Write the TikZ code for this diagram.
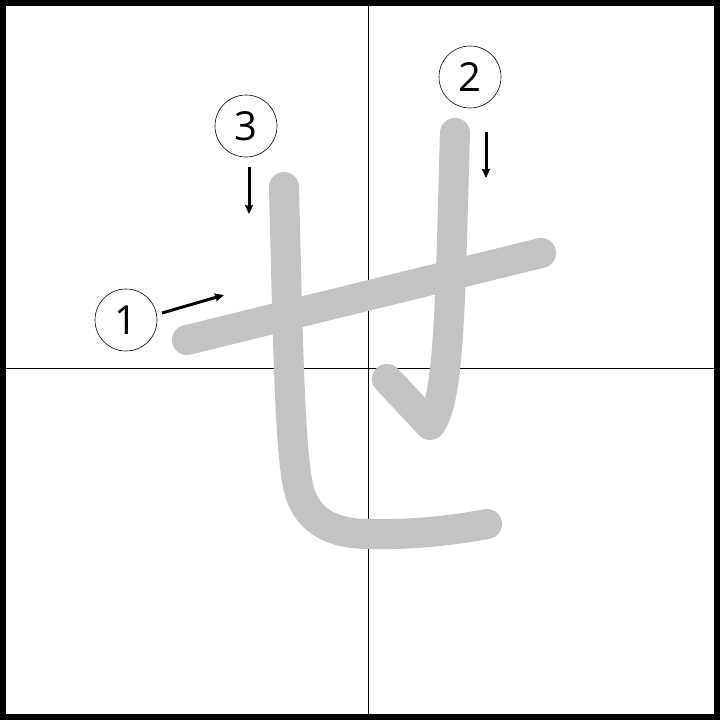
\documentclass[tikz,border=0pt]{standalone}
\usepackage{fontspec}
\setmainfont{Open Sans}
\usetikzlibrary{arrows.meta}
\definecolor{strokegray}{RGB}{195,195,195}
\begin{document}
\begin{tikzpicture}[x=1pt,y=-1pt,
  kana/.style={draw=strokegray,line width=30pt,line cap=round,line join=round},
  numcirc/.style={circle,draw=black,line width=0.6pt,minimum size=62pt,inner sep=0pt,font=\fontsize{40}{40}\selectfont},
  dirarrow/.style={line width=3pt,-{Stealth[length=9pt,width=8pt,inset=1pt]}},
  guide/.style={line width=1pt}]
\useasboundingbox (0,0) rectangle (720,720);
\fill[white] (0,0) rectangle (720,720);
% guide cross
\coordinate (vt) at (368,0); \coordinate (vb) at (368,720);
\coordinate (hl) at (0,368); \coordinate (hr) at (720,368);
\draw[guide] (vt) -- (vb);
\draw[guide] (hl) -- (hr);
% strokes
\draw[kana] (187,340) -- (541,253);
\draw[kana] (455,133) .. controls (450,300) and (450,400) .. (430,425) -- (387,379);
\draw[kana] (284,187) .. controls (288,350) and (290,440) .. (297,480) .. controls (303,520) and (330,534) .. (370,534) .. controls (420,535) and (460,529) .. (487,524);
% numbers
\node[numcirc] (n1) at (126,320) {1};
\node[numcirc] (n2) at (470,77) {2};
\node[numcirc] (n3) at (246,126) {3};
% arrows
\coordinate (a1s) at (162,313); \coordinate (a1e) at (224,295);
\coordinate (a2s) at (486,132); \coordinate (a2e) at (486,178);
\coordinate (a3s) at (249,167); \coordinate (a3e) at (249,214);
\draw[dirarrow] (a1s) -- (a1e);
\draw[dirarrow] (a2s) -- (a2e);
\draw[dirarrow] (a3s) -- (a3e);
% border
\draw[line width=6pt] (3,3) rectangle (717,717);
\end{tikzpicture}
\end{document}
